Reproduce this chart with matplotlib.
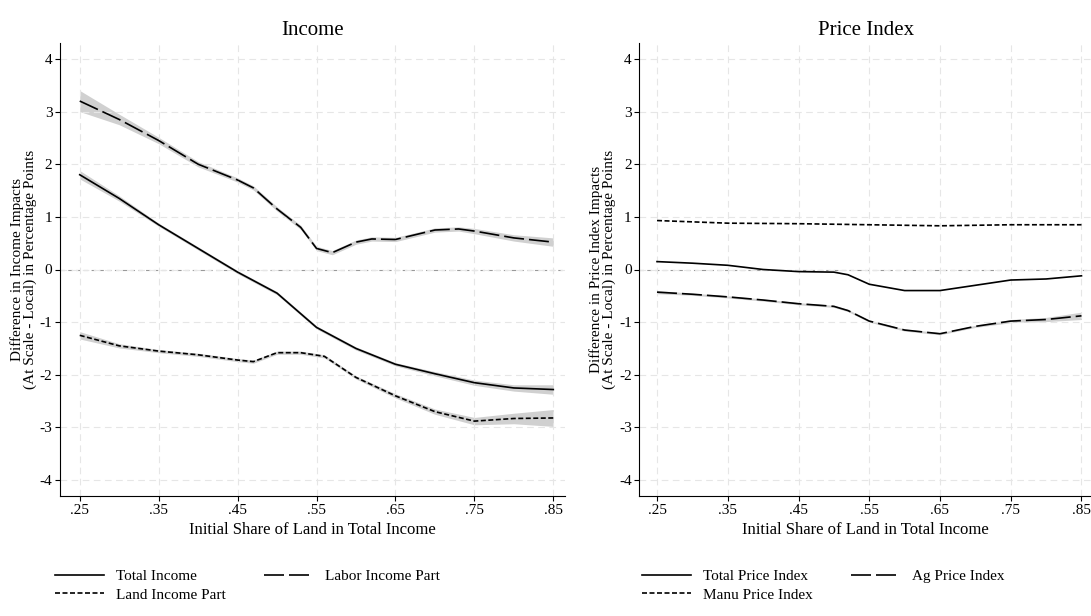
import matplotlib.pyplot as plt
import numpy as np

plt.rcParams['font.family'] = ['Liberation Serif', 'DejaVu Serif']
plt.rcParams['axes.unicode_minus'] = False

# income panel
inc_x = [.25, .30, .35, .40, .45, .50, .55, .60, .65, .70, .75, .80, .85]
total_income = [1.8, 1.35, 0.85, 0.4, -0.05, -0.45, -1.1, -1.5, -1.8, -1.98, -2.15, -2.25, -2.28]
total_income_ci = [0.08, 0.05, 0.03, 0.03, 0.03, 0.03, 0.03, 0.03, 0.03, 0.04, 0.05, 0.06, 0.09]

labor_x = [.25, .30, .35, .40, .45, .47, .50, .53, .55, .57, .60, .62, .65, .70, .73, .75, .80, .85]
labor_income = [3.2, 2.85, 2.45, 2.0, 1.7, 1.55, 1.15, 0.8, 0.4, 0.32, 0.52, 0.58, 0.57, 0.75, 0.77, 0.73, 0.6, 0.52]
labor_income_ci = [0.2, 0.1, 0.06, 0.05, 0.04, 0.04, 0.04, 0.04, 0.04, 0.04, 0.04, 0.04, 0.04, 0.04, 0.04, 0.05, 0.06, 0.08]

land_x = [.25, .30, .35, .40, .45, .47, .50, .53, .56, .60, .65, .70, .75, .80, .85]
land_income = [-1.25, -1.45, -1.55, -1.62, -1.72, -1.75, -1.58, -1.58, -1.65, -2.05, -2.4, -2.7, -2.88, -2.83, -2.82]
land_income_ci = [0.07, 0.04, 0.03, 0.03, 0.03, 0.03, 0.03, 0.03, 0.03, 0.03, 0.04, 0.05, 0.07, 0.1, 0.16]

# price panel
price_x = [.25, .30, .35, .40, .45, .50, .52, .55, .60, .65, .70, .75, .80, .85]
total_price = [0.15, 0.12, 0.08, 0.0, -0.04, -0.05, -0.1, -0.28, -0.4, -0.4, -0.3, -0.2, -0.18, -0.12]
ag_price = [-0.43, -0.47, -0.52, -0.58, -0.65, -0.7, -0.78, -0.98, -1.15, -1.22, -1.08, -0.98, -0.95, -0.88]
ag_price_ci = [0.03, 0.02, 0.02, 0.02, 0.02, 0.02, 0.02, 0.02, 0.02, 0.02, 0.02, 0.03, 0.04, 0.07]
manu_x = [.25, .35, .45, .55, .65, .75, .85]
manu_price = [0.93, 0.88, 0.87, 0.85, 0.83, 0.85, 0.85]

xticks = [.25, .35, .45, .55, .65, .75, .85]
xlabels = ['.25', '.35', '.45', '.55', '.65', '.75', '.85']

fig = plt.figure(figsize=(10.91, 6.16), dpi=100)
axL = fig.add_axes([0.055, 0.195, 0.463, 0.735])
axR = fig.add_axes([0.586, 0.195, 0.415, 0.735])


def band(ax, x, y, ci):
    x = np.array(x); y = np.array(y); ci = np.array(ci)
    ax.fill_between(x, y - ci, y + ci, color='#d0d0d0', lw=0, zorder=1)


def style(ax, title, ylabel):
    ax.set_xlim(0.225, 0.865)
    ax.set_ylim(-4.3, 4.3)
    ax.set_yticks(range(-4, 5))
    ax.set_xticks(xticks)
    ax.set_xticklabels(xlabels)
    ax.grid(True, color='#e6e6e6', ls=(0, (6, 4)), lw=0.8, zorder=0)
    ax.axhline(0, color='#999999', ls=(0, (4, 3)), lw=0.8, zorder=1)
    for s in ['top', 'right']:
        ax.spines[s].set_visible(False)
    ax.tick_params(labelsize=11, pad=2)
    ax.set_title(title, fontsize=15)
    ax.set_ylabel(ylabel, fontsize=11, linespacing=0.95, labelpad=2)
    ax.set_xlabel('Initial Share of Land in Total Income', fontsize=12)


band(axL, inc_x, total_income, total_income_ci)
band(axL, labor_x, labor_income, labor_income_ci)
band(axL, land_x, land_income, land_income_ci)
axL.plot(inc_x, total_income, color='black', lw=1.2, label='Total Income', zorder=3)
axL.plot(labor_x, labor_income, color='black', lw=1.2, ls=(0, (12, 3)), label='Labor Income Part', zorder=3)
axL.plot(land_x, land_income, color='black', lw=1.2, ls=(0, (3, 1.5)), label='Land Income Part', zorder=3)
style(axL, 'Income', 'Difference in Income Impacts\n(At Scale - Local) in Percentage Points')

band(axR, price_x, ag_price, ag_price_ci)
axR.plot(price_x, total_price, color='black', lw=1.2, label='Total Price Index', zorder=3)
axR.plot(price_x, ag_price, color='black', lw=1.2, ls=(0, (12, 3)), label='Ag Price Index', zorder=3)
axR.plot(manu_x, manu_price, color='black', lw=1.2, ls=(0, (3, 1.5)), label='Manu Price Index', zorder=3)
style(axR, 'Price Index', 'Difference in Price Index Impacts\n(At Scale - Local) in Percentage Points')

for ax, x0 in [(axL, 0.045), (axR, 0.583)]:
    h, l = ax.get_legend_handles_labels()
    # row-major order: first, second on top row; third below
    h = [h[0], h[2], h[1]]
    l = [l[0], l[2], l[1]]
    fig.legend(h, l, loc='upper left', bbox_to_anchor=(x0, 0.085), ncol=2, frameon=False,
               fontsize=11, handlelength=3.2, columnspacing=2.5, labelspacing=0.3,
               borderaxespad=0)

fig.savefig('out.png', dpi=100)
